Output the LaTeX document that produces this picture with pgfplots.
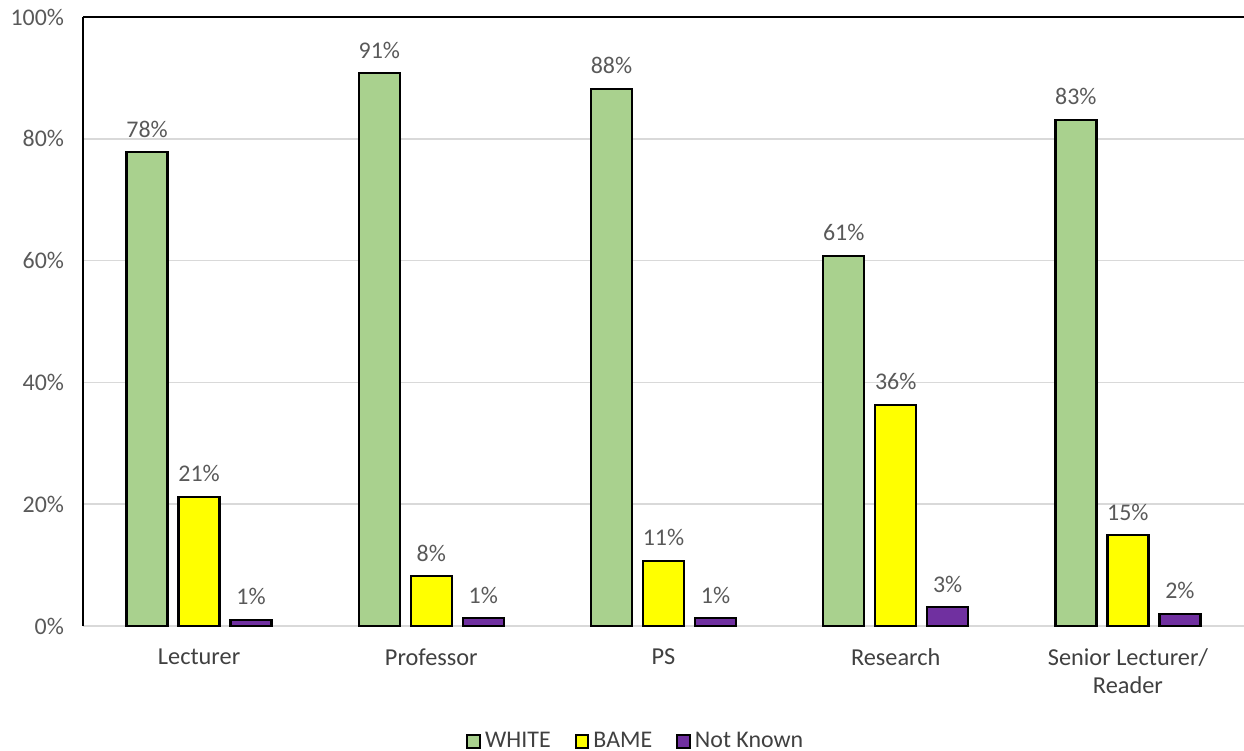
\documentclass[border=0pt]{standalone}
\usepackage{pgfplots}
\pgfplotsset{compat=1.18}
\usepackage{fontspec}
\setmainfont{Carlito}
\definecolor{cwhite}{HTML}{A9D18E}
\definecolor{cbame}{HTML}{FFFF00}
\definecolor{cnk}{HTML}{7030A0}
\definecolor{txt}{HTML}{404040}
\definecolor{lbl}{HTML}{595959}
\definecolor{grd}{HTML}{D9D9D9}
\begin{document}
\begin{tikzpicture}
\begin{axis}[
  scale only axis,
  width=580.5bp, height=304.5bp,
  ybar=5.5bp, bar width=20.5bp,
  xmin=-0.5, xmax=4.5,
  ymin=0, ymax=100,
  xtick=data,
  xticklabels={Lecturer,Professor,PS,Research,{Senior Lecturer/\\Reader}},
  ytick={0,20,40,60,80,100},
  yticklabel={\pgfmathprintnumber{\tick}\%},
  /pgf/number format/assume math mode=true,
  major tick length=0pt,
  axis y line*=left,
  axis x line*=bottom,
  x axis line style={draw=grd, line width=1bp},
  y axis line style={draw=black, line width=1bp},
  ymajorgrids,
  grid style={draw=grd, line width=0.8bp},
  yticklabel style={font=\fontsize{12}{14}\selectfont, text=lbl, xshift=-6bp},
  xticklabel style={font=\fontsize{12.2}{14}\selectfont, text=txt, align=center, yshift=-8bp},
  nodes near coords={\pgfmathprintnumber[fixed,precision=0]{\pgfplotspointmeta}\%},
  every node near coord/.append style={font=\fontsize{12}{14}\selectfont, text=lbl, yshift=3.5bp},
  legend columns=3,
  legend style={at={(0.477,-0.19)}, anchor=center, draw=none, fill=none,
    font=\fontsize{12}{14}\selectfont, text=txt,
    /tikz/every even column/.append style={column sep=10bp}},
  legend image code/.code={\draw[#1, line width=1bp] (0bp,-3.2bp) rectangle (6.4bp,3.2bp);},
  clip=false,
]
\addplot[fill=cwhite, draw=black, line width=1.1bp] coordinates {(0,77.8) (1,90.8) (2,88.2) (3,60.8) (4,83.1)};
\addplot[fill=cbame, draw=black, line width=1.1bp] coordinates {(0,21.2) (1,8.2) (2,10.7) (3,36.3) (4,14.9)};
\addplot[fill=cnk, draw=black, line width=1.1bp] coordinates {(0,1.0) (1,1.3) (2,1.3) (3,3.1) (4,2.0)};
\legend{WHITE,BAME,Not Known}
\draw[black, line width=1bp] (rel axis cs:0,1) -- (rel axis cs:1,1);
\end{axis}
\pgfresetboundingbox
\path[use as bounding box] ([xshift=-41.5bp,yshift=-62.5bp]current axis.south west) rectangle ([yshift=8.5bp]current axis.north east);
\end{tikzpicture}
\end{document}
